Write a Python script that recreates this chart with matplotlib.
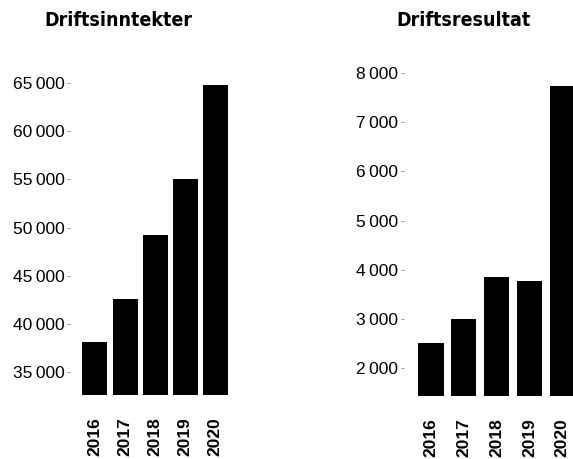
import matplotlib
matplotlib.use("Agg")
import matplotlib.pyplot as plt
from matplotlib import font_manager

years = ["2016", "2017", "2018", "2019", "2020"]
inntekter = [38170, 42560, 49220, 54990, 64760]
resultat = [2520, 3000, 3846, 3776, 7730]

left_ticks = [35000, 40000, 45000, 50000, 55000, 60000, 65000]
left_ticklabels = ["35\u2009000", "40\u2009000", "45\u2009000", "50\u2009000",
                   "55\u2009000", "60\u2009000", "65\u2009000"]
right_ticks = [2000, 3000, 4000, 5000, 6000, 7000, 8000]
right_ticklabels = ["2\u2009000", "3\u2009000", "4\u2009000", "5\u2009000",
                    "6\u2009000", "7\u2009000", "8\u2009000"]

titles = ["Driftsinntekter", "Driftsresultat"]

names = {f.name for f in font_manager.fontManager.ttflist}
base = "Liberation Sans" if "Liberation Sans" in names else "DejaVu Sans"
plt.rcParams["font.family"] = [base, "DejaVu Sans"]

W, H = 573, 459
fig = plt.figure(figsize=(W / 100, H / 100), dpi=100)


def px_axes(l, r, top, bottom):
    return [l / W, 1 - bottom / H, (r - l) / W, (bottom - top) / H]


def style(ax, ticks, labels, ylim, xlim):
    ax.set_ylim(*ylim)
    ax.set_xlim(*xlim)
    for s in ax.spines.values():
        s.set_visible(False)
    ax.set_yticks(ticks)
    ax.set_yticklabels(labels, fontsize=12.5)
    ax.set_xticks(range(len(years)))
    ax.set_xticklabels(years, rotation=90, fontsize=12.5, fontweight="bold")
    ax.tick_params(axis="y", length=2, width=0.6, color="#888888", pad=2)
    ax.tick_params(axis="x", length=0, pad=16)
    for lab in ax.get_xticklabels():
        lab.set_verticalalignment("top")


ax1 = fig.add_axes(px_axes(70, 230, 73.05, 395))
ax1.bar(range(len(years)), inntekter, width=0.83, color="black")
style(ax1, left_ticks, left_ticklabels, (32650, 66000), (-0.83, 4.49))

ax2 = fig.add_axes(px_axes(404, 573, 62.85, 395.7))
ax2.bar(range(len(years)), resultat, width=0.77, color="black")
style(ax2, right_ticks, right_ticklabels, (1444, 8200), (-0.82, 4.325))

for x, t in zip([118.5, 463.5], titles):
    fig.text(x / W, 1 - 21 / H, t, ha="center", va="center",
             fontsize=14, fontweight="bold", fontstretch="condensed",
             family="DejaVu Sans")

fig.savefig("out.png", dpi=100)
